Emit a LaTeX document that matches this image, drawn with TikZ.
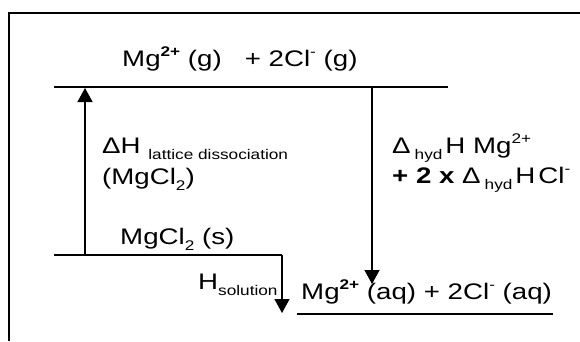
\documentclass[tikz,border=0pt]{standalone}
\usepackage{fontspec}
\setmainfont{Liberation Sans}[FakeStretch=1.23]
\usetikzlibrary{arrows.meta}

\newcommand{\sups}[1]{\raisebox{0.42em}{\fontsize{14}{14}\selectfont #1}}
\newcommand{\subs}[1]{\raisebox{-0.3em}{\fontsize{14}{14}\selectfont #1}}

\begin{document}
\begin{tikzpicture}[x=1pt,y=-1pt,
  level/.style={line width=2pt},
  jump/.style={line width=1.3pt,-{Triangle[width=15pt,length=14pt]}},
  lbl/.style={anchor=base west,inner sep=0pt,font=\fontsize{22.5}{26}\selectfont}]
\useasboundingbox (0,0) rectangle (580,341);

% frame
\draw[line width=2pt] (9,341) -- (9,13) -- (580,13);

% levels
\coordinate (gasL) at (54,87);
\coordinate (gasR) at (448,87);
\coordinate (solL) at (54,255);
\coordinate (solR) at (282,255);
\coordinate (aqL) at (297,314);
\coordinate (aqR) at (553,314);
\draw[level] (gasL) -- (gasR);
\draw[level] (solL) -- (solR);
\draw[level] (aqL) -- (aqR);

% arrows
\coordinate (latB) at (85,255);
\coordinate (latT) at (85,88);
\coordinate (hydT) at (372,87);
\coordinate (hydB) at (372,284);
\coordinate (dsB) at (282,313);
\draw[jump] (latB) -- (latT);
\draw[jump] (hydT) -- (hydB);
\draw[jump] (solR) -- (dsB);

% labels
\node[lbl] (gas) at (122,66) {Mg\sups{\textbf{2+}} (g) \ \ + 2Cl\sups{-} (g)};
\node[lbl] (lat) at (102,153) {ΔH \subs{lattice dissociation}};
\node[lbl] (latsalt) at (102,184) {(MgCl\subs{2})};
\node[lbl] (solid) at (120,244) {MgCl\subs{2} (s)};
\node[lbl] (dsol) at (198,289) {H\subs{solution}};
\node[lbl] (hyd1) at (392,153) {Δ\hspace{4pt}\subs{hyd}\hspace{3pt}H Mg\sups{2+}};
\node[lbl] (hyd2) at (392,183) {\textbf{+ 2 x} Δ\hspace{4pt}\subs{hyd}\hspace{3pt}H\hspace{3pt}Cl\sups{-}};
\node[lbl] (aq) at (301,299) {Mg\sups{\textbf{2+}} (aq) + 2Cl\sups{-} (aq)};
\end{tikzpicture}
\end{document}
